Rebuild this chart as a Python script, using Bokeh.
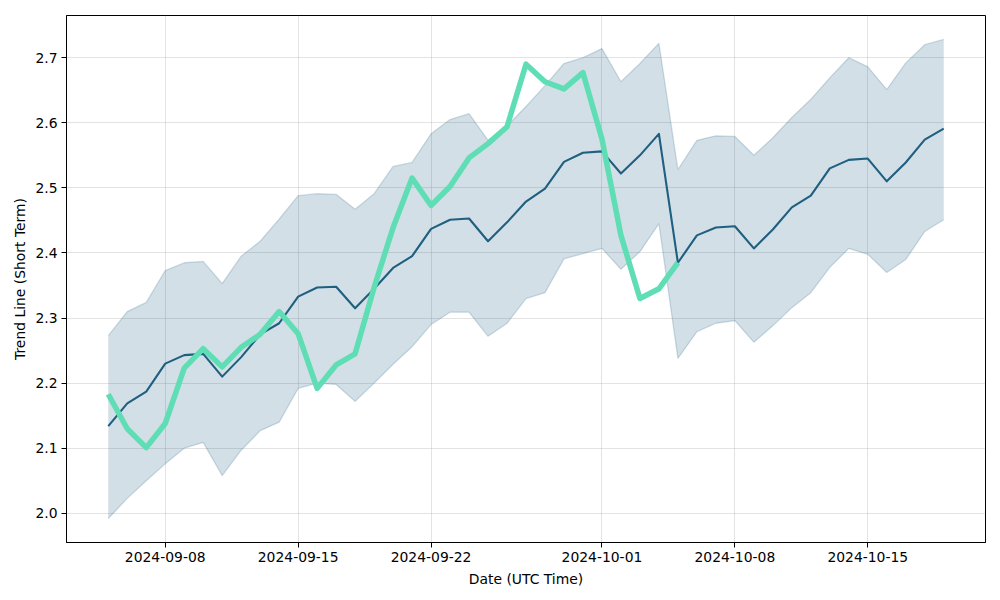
import pandas as pd
from bokeh.plotting import figure
from bokeh.models import FixedTicker, DatetimeTickFormatter, NumeralTickFormatter, Range1d
from bokeh.embed import file_html
from bokeh.resources import INLINE

dates = pd.to_datetime([
    "2024-09-05", "2024-09-06", "2024-09-07", "2024-09-08", "2024-09-09", "2024-09-10",
    "2024-09-11", "2024-09-12", "2024-09-13", "2024-09-14", "2024-09-15", "2024-09-16",
    "2024-09-17", "2024-09-18", "2024-09-19", "2024-09-20", "2024-09-21", "2024-09-22",
    "2024-09-23", "2024-09-24", "2024-09-25", "2024-09-26", "2024-09-27", "2024-09-28",
    "2024-09-29", "2024-09-30", "2024-10-01", "2024-10-02", "2024-10-03", "2024-10-04",
    "2024-10-05", "2024-10-06", "2024-10-07", "2024-10-08", "2024-10-09", "2024-10-10",
    "2024-10-11", "2024-10-12", "2024-10-13", "2024-10-14", "2024-10-15", "2024-10-16",
    "2024-10-17", "2024-10-18", "2024-10-19",
])

trend_mid = [2.134, 2.169, 2.187, 2.230, 2.243, 2.245, 2.210, 2.240, 2.275, 2.292,
             2.333, 2.347, 2.348, 2.315, 2.345, 2.377, 2.395, 2.437, 2.451, 2.453,
             2.418, 2.447, 2.479, 2.499, 2.540, 2.554, 2.556, 2.522, 2.550, 2.583,
             2.385, 2.427, 2.439, 2.441, 2.407, 2.436, 2.470, 2.488, 2.530, 2.543,
             2.545, 2.510, 2.539, 2.574, 2.591]

trend_upper = [2.273, 2.310, 2.324, 2.373, 2.385, 2.387, 2.353, 2.395, 2.418, 2.452,
               2.488, 2.491, 2.490, 2.467, 2.491, 2.533, 2.539, 2.583, 2.605, 2.614,
               2.573, 2.595, 2.625, 2.657, 2.691, 2.700, 2.714, 2.663, 2.691, 2.722,
               2.528, 2.573, 2.580, 2.579, 2.550, 2.577, 2.608, 2.636, 2.669, 2.700,
               2.686, 2.651, 2.692, 2.720, 2.728]

trend_lower = [1.992, 2.023, 2.050, 2.076, 2.100, 2.109, 2.058, 2.097, 2.127, 2.140,
               2.192, 2.200, 2.198, 2.172, 2.200, 2.229, 2.256, 2.290, 2.309, 2.309,
               2.272, 2.292, 2.330, 2.339, 2.391, 2.399, 2.407, 2.375, 2.402, 2.445,
               2.238, 2.279, 2.292, 2.296, 2.263, 2.288, 2.316, 2.339, 2.378, 2.407,
               2.398, 2.370, 2.390, 2.433, 2.451]

actual = [2.183, 2.130, 2.101, 2.138, 2.223, 2.253, 2.225, 2.255, 2.275, 2.310,
          2.276, 2.192, 2.228, 2.245, 2.347, 2.439, 2.515, 2.473, 2.502, 2.546,
          2.568, 2.594, 2.690, 2.663, 2.652, 2.677, 2.575, 2.427, 2.330, 2.345,
          2.385]

x_tick_labels = ["2024-09-08", "2024-09-15", "2024-09-22", "2024-10-01", "2024-10-08", "2024-10-15"]
y_ticks = [2.0, 2.1, 2.2, 2.3, 2.4, 2.5, 2.6, 2.7]

BAND = "#1e5f82"
MID = "#1f5f80"
GREEN = "#5fddb4"
FONT = "DejaVu Sans"
FS = "13.9px"

x0 = pd.Timestamp(dates[0]).value / 1e6
x1 = pd.Timestamp(dates[-1]).value / 1e6
xpad = (x1 - x0) * 0.05
ymin = min(trend_lower + actual)
ymax = max(trend_upper + actual)
ypad = (ymax - ymin) * 0.05

p = figure(width=1000, height=600, x_axis_type="datetime",
           output_backend="svg", toolbar_location=None,
           x_range=Range1d(x0 - xpad, x1 + xpad),
           y_range=Range1d(ymin - ypad, ymax + ypad),
           min_border_left=66, min_border_right=15,
           min_border_top=15, min_border_bottom=58)

p.varea(x=dates, y1=trend_lower, y2=trend_upper, fill_color=BAND, fill_alpha=0.2)
p.line(dates, trend_upper, line_color=BAND, line_alpha=0.2, line_width=1.3)
p.line(dates, trend_lower, line_color=BAND, line_alpha=0.2, line_width=1.3)
p.line(dates, trend_mid, line_color=MID, line_width=2.1, line_join="round")
p.line(dates[:len(actual)], actual, line_color=GREEN, line_width=5.5, line_join="round")

p.outline_line_color = "black"
p.outline_line_width = 1
p.background_fill_color = "white"
p.border_fill_color = "white"

p.xaxis.ticker = FixedTicker(ticks=[pd.Timestamp(d).value / 1e6 for d in x_tick_labels])
p.xaxis.formatter = DatetimeTickFormatter(days="%Y-%m-%d", months="%Y-%m-%d")
p.yaxis.ticker = FixedTicker(ticks=y_ticks)
p.yaxis.formatter = NumeralTickFormatter(format="0.0")

for ax in (p.xaxis, p.yaxis):
    ax.axis_line_color = "black"
    ax.major_tick_line_color = "black"
    ax.major_tick_out = 5
    ax.major_tick_in = 0
    ax.minor_tick_line_color = None
    ax.major_label_text_font = FONT
    ax.major_label_text_font_size = FS
    ax.major_label_text_color = "black"
    ax.axis_label_text_font = FONT
    ax.axis_label_text_font_size = FS
    ax.axis_label_text_font_style = "normal"
    ax.axis_label_text_color = "black"
    ax.major_label_standoff = 4

p.xaxis.axis_label = "Date (UTC Time)"
p.yaxis.axis_label = "Trend Line (Short Term)"
p.xaxis.axis_label_standoff = 6
p.yaxis.axis_label_standoff = 4

p.xgrid.ticker = p.xaxis.ticker
p.ygrid.ticker = p.yaxis.ticker
p.grid.grid_line_color = "#b0b0b0"
p.grid.grid_line_alpha = 0.35
p.grid.grid_line_width = 1

open("out.html", "w").write(file_html(p, INLINE))
